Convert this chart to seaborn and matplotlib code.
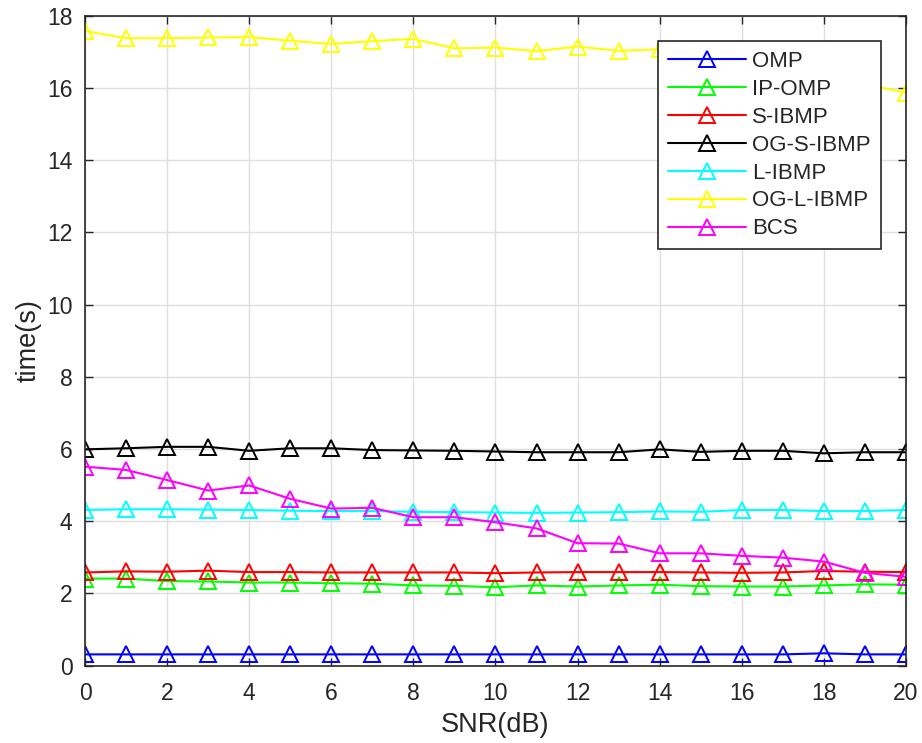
import numpy as np
import pandas as pd
import matplotlib
matplotlib.use("Agg")
import matplotlib.pyplot as plt
import seaborn as sns

snr = list(range(0, 21))
omp = [0.31, 0.31, 0.31, 0.31, 0.31, 0.31, 0.31, 0.31, 0.31, 0.31, 0.31,
       0.31, 0.31, 0.31, 0.31, 0.31, 0.31, 0.31, 0.34, 0.31, 0.31]
ip_omp = [2.41, 2.41, 2.34, 2.33, 2.30, 2.30, 2.28, 2.27, 2.22, 2.21, 2.17,
          2.22, 2.19, 2.22, 2.24, 2.20, 2.19, 2.19, 2.22, 2.25, 2.24]
s_ibmp = [2.58, 2.61, 2.60, 2.63, 2.59, 2.59, 2.58, 2.58, 2.58, 2.58, 2.56,
          2.58, 2.59, 2.59, 2.59, 2.58, 2.57, 2.58, 2.62, 2.60, 2.59]
og_s_ibmp = [5.99, 6.02, 6.06, 6.06, 5.95, 6.02, 6.02, 5.97, 5.96, 5.95, 5.93,
             5.91, 5.91, 5.91, 5.99, 5.92, 5.95, 5.95, 5.88, 5.91, 5.91]
l_ibmp = [4.31, 4.33, 4.33, 4.32, 4.31, 4.29, 4.28, 4.28, 4.26, 4.25, 4.24,
          4.23, 4.24, 4.25, 4.27, 4.26, 4.31, 4.31, 4.28, 4.28, 4.31]
og_l_ibmp = [17.58, 17.38, 17.38, 17.40, 17.41, 17.31, 17.22, 17.30, 17.36, 17.10, 17.12,
             17.02, 17.15, 17.03, 17.07, 17.00, 16.90, 16.70, 16.45, 16.10, 15.87]
bcs = [5.51, 5.42, 5.14, 4.85, 4.99, 4.62, 4.35, 4.37, 4.11, 4.11, 3.97,
       3.80, 3.39, 3.38, 3.11, 3.11, 3.04, 2.99, 2.88, 2.57, 2.46]

series_names = ["OMP", "IP-OMP", "S-IBMP", "OG-S-IBMP", "L-IBMP", "OG-L-IBMP", "BCS"]
series_values = [omp, ip_omp, s_ibmp, og_s_ibmp, l_ibmp, og_l_ibmp, bcs]
colors = ["#0000ff", "#00ff00", "#ff0000", "#000000", "#00ffff", "#ffff00", "#ff00ff"]

x_ticks = list(range(0, 21, 2))
y_ticks = list(range(0, 19, 2))

sns.set_theme(style="whitegrid")
plt.rcParams['font.family'] = ['Liberation Sans', 'DejaVu Sans']

fig = plt.figure(figsize=(9.22, 7.43), dpi=100)
ax = fig.add_axes([0.0922, 0.1042, 0.8904, 0.8745])

for name, vals, c in zip(series_names, series_values, colors):
    df = pd.DataFrame({"SNR": snr, "time": vals})
    sns.lineplot(data=df, x="SNR", y="time", ax=ax, color=c, marker="^",
                 markersize=11.5, markerfacecolor="none", markeredgecolor=c,
                 markeredgewidth=1.4, linewidth=1.5, label=name)

ax.set_xlim(0, 20)
ax.set_ylim(0, 18)
ax.set_xticks(x_ticks)
ax.set_yticks(y_ticks)
ax.set_xlabel("SNR(dB)", fontsize=19.5, color="#262626", labelpad=5)
ax.set_ylabel("time(s)", fontsize=19.5, color="#262626", labelpad=4)
ax.tick_params(axis="both", which="both", direction="in", length=6, width=1,
               labelsize=16.5, colors="#262626", top=True, right=True,
               bottom=True, left=True)
ax.tick_params(axis="x", pad=12)
ax.tick_params(axis="y", pad=9)
ax.grid(True, color="#dfdfdf", linewidth=1)
ax.set_facecolor("white")
for sp in ax.spines.values():
    sp.set_color("#262626")
    sp.set_linewidth(1.2)

leg = ax.legend(loc="upper right", bbox_to_anchor=(0.9696, 0.9612),
                borderaxespad=0, fontsize=16, handlelength=3.5,
                labelspacing=0.31, fancybox=False, framealpha=1,
                edgecolor="#262626", borderpad=0.45, handletextpad=0.3)
leg.get_frame().set_linewidth(1.2)

fig.savefig("out.png", dpi=100)
